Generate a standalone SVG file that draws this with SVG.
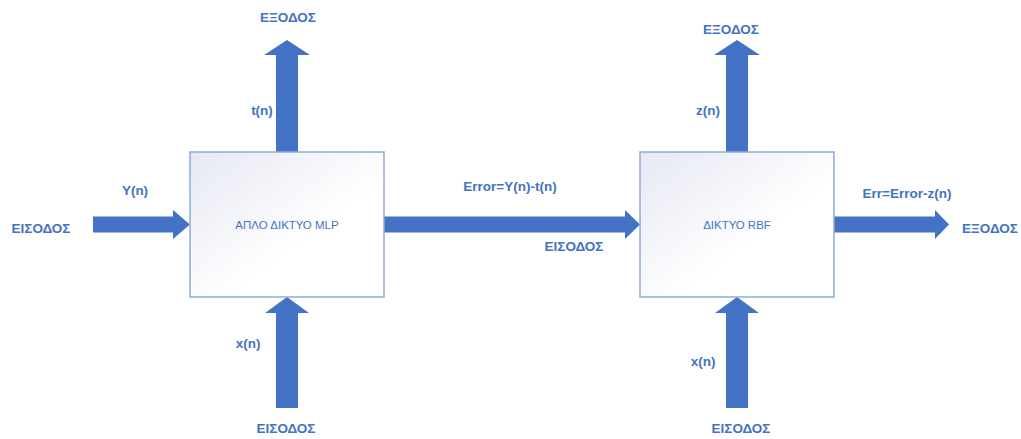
<svg xmlns="http://www.w3.org/2000/svg" width="1021" height="439" viewBox="0 0 1021 439">
  <style>
    .arrow { fill: #4472C4; }
    .box { stroke: #8FAADC; stroke-width: 1.5; fill: url(#boxFill); }
    .lbl { font-family: "Liberation Sans", Arial, sans-serif; font-weight: bold; font-size: 13.5px; fill: #4472C4; text-anchor: middle; dominant-baseline: central; }
    .name { font-family: "Liberation Sans", Arial, sans-serif; font-size: 11.5px; fill: #4472C4; text-anchor: middle; dominant-baseline: central; }
  </style>
  <defs>
    <linearGradient id="boxFill" x1="0" y1="0" x2="1" y2="1">
      <stop offset="0" stop-color="#E6E8F3"/>
      <stop offset="0.6" stop-color="#FFFFFF"/>
      <stop offset="1" stop-color="#FFFFFF"/>
    </linearGradient>
  </defs>

  <!-- block arrows -->
  <g id="connectors">
    <!-- input Y(n) into MLP -->
    <polygon class="arrow" points="93,216.5 173,216.5 173,210 190,224.5 173,239 173,232.5 93,232.5"/>
    <!-- MLP output t(n) -->
    <polygon class="arrow" points="276,152 276,55 264,55 287,40 310,55 298,55 298,152"/>
    <!-- MLP input x(n) -->
    <polygon class="arrow" points="276,408 276,313 265,313 287,297 309,313 298,313 298,408"/>
    <!-- error signal MLP -> RBF -->
    <polygon class="arrow" points="384,216.5 625,216.5 625,210 640,224.5 625,239 625,232.5 384,232.5"/>
    <!-- RBF output z(n) -->
    <polygon class="arrow" points="726,152 726,55 714,55 737,40 760,55 748,55 748,152"/>
    <!-- RBF input x(n) -->
    <polygon class="arrow" points="726,408 726,313 715,313 737,297 759,313 748,313 748,408"/>
    <!-- final output Err -->
    <polygon class="arrow" points="834,216.5 935,216.5 935,210 949,224.5 935,239 935,232.5 834,232.5"/>
  </g>

  <g id="mlp">
    <rect class="box" x="190" y="152" width="194" height="145"/>
    <text class="name" x="287" y="225">ΑΠΛΟ ΔΙΚΤΥΟ MLP</text>
  </g>

  <g id="rbf">
    <rect class="box" x="640" y="152" width="194" height="145"/>
    <text class="name" x="737" y="225">ΔΙΚΤΥΟ RBF</text>
  </g>

  <g id="labels">
    <text class="lbl" x="41" y="228">ΕΙΣΟΔΟΣ</text>
    <text class="lbl" x="135" y="190">Y(n)</text>
    <text class="lbl" x="288" y="17">ΕΞΟΔΟΣ</text>
    <text class="lbl" x="262" y="110">t(n)</text>
    <text class="lbl" x="248" y="343">x(n)</text>
    <text class="lbl" x="286" y="428">ΕΙΣΟΔΟΣ</text>
    <text class="lbl" x="510" y="186">Error=Y(n)-t(n)</text>
    <text class="lbl" x="574" y="246">ΕΙΣΟΔΟΣ</text>
    <text class="lbl" x="731" y="29">ΕΞΟΔΟΣ</text>
    <text class="lbl" x="708" y="110">z(n)</text>
    <text class="lbl" x="703" y="361">x(n)</text>
    <text class="lbl" x="741" y="428">ΕΙΣΟΔΟΣ</text>
    <text class="lbl" x="907" y="193">Err=Error-z(n)</text>
    <text class="lbl" x="990" y="228">ΕΞΟΔΟΣ</text>
  </g>
</svg>
